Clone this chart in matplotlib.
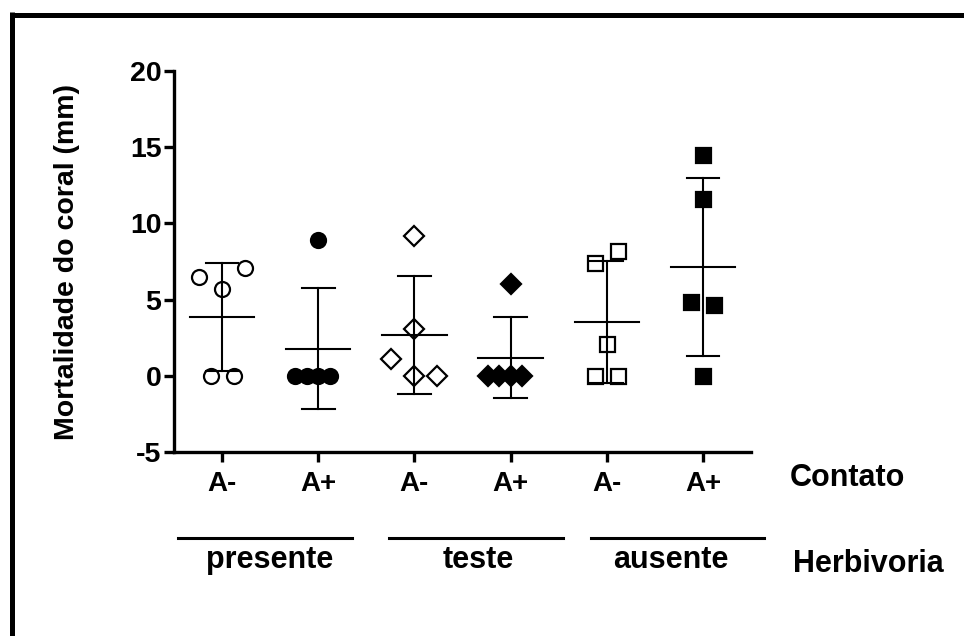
import numpy as np
import matplotlib
matplotlib.use('Agg')
import matplotlib.pyplot as plt
from matplotlib.lines import Line2D

plt.rcParams['font.family'] = ['Liberation Sans', 'DejaVu Sans']
plt.rcParams['font.weight'] = 'bold'
plt.rcParams['axes.unicode_minus'] = False

# data (mortality in mm)
contato = ['A-', 'A+', 'A-', 'A+', 'A-', 'A+']
herbivoria = ['presente', 'teste', 'ausente']
pres_neg = [6.5, 7.09, 5.67, 0.0, 0.0]
pres_pos = [8.91, 0.0, 0.0, 0.0, 0.0]
teste_neg = [9.19, 3.05, 1.12, 0.0, 0.0]
teste_pos = [6.0, 0.0, 0.0, 0.0, 0.0]
aus_neg = [8.19, 7.38, 2.07, 0.0, 0.0]
aus_pos = [14.49, 11.58, 4.86, 4.65, 0.0]
groups = [pres_neg, pres_pos, teste_neg, teste_pos, aus_neg, aus_pos]

# scatter spread of each point (in steps of marker width)
jitter = [[-2, 2, 0, -1, 1],
          [0, -2, -1, 0, 1],
          [0, 0, -2, 0, 2],
          [0, -2, -1, 0, 1],
          [1, -1, 0, -1, 1],
          [0, 0, -1, 1, 0]]
markers = ['o', 'o', 'D', 'D', 's', 's']
filled = [False, True, False, True, False, True]
msizes = [10.8, 10.8, 9.8, 9.8, 10.8, 10.8]

W, H = 964, 636
fig = plt.figure(figsize=(W / 100, H / 100), dpi=100)
ax = fig.add_axes([174 / W, 1 - 452 / H, (751 - 174) / W, (452 - 71) / H])

step = 0.12
for i, vals in enumerate(groups):
    vals = np.array(vals)
    m = vals.mean()
    sd = vals.std(ddof=1)
    ax.plot([i, i], [m - sd, m + sd], color='black', lw=1.5, zorder=2)
    ax.plot([i - 0.17, i + 0.17], [m + sd, m + sd], color='black', lw=1.5, zorder=2)
    ax.plot([i - 0.17, i + 0.17], [m - sd, m - sd], color='black', lw=1.5, zorder=2)
    ax.plot([i - 0.335, i + 0.335], [m, m], color='black', lw=1.5, zorder=2)
    xs = i + np.array(jitter[i]) * step
    ax.plot(xs, vals, linestyle='none', marker=markers[i], ms=msizes[i],
            mec='black', mew=1.6, mfc='black' if filled[i] else 'none',
            zorder=3, clip_on=False)

ax.set_xlim(-0.5, 5.5)
ax.set_ylim(-5, 20)
ax.set_yticks([-5, 0, 5, 10, 15, 20])
ax.set_xticks(range(6))
ax.set_xticklabels(contato)
ax.spines['top'].set_visible(False)
ax.spines['right'].set_visible(False)
for s in ['left', 'bottom']:
    ax.spines[s].set_linewidth(2.4)
ax.tick_params(axis='y', length=7, width=2.4, labelsize=20.5, pad=2)
ax.tick_params(axis='x', length=7.5, width=2.4, labelsize=20, pad=6)
ax.set_ylabel('Mortalidade do coral (mm)', fontsize=20.5, fontweight='bold')
ax.yaxis.set_label_coords((80 - 174) / (751 - 174), 0.5)

# Contato / Herbivoria row labels
fig.text(790 / W, 1 - 486 / H, 'Contato', fontsize=22, fontweight='bold',
         ha='left', va='baseline')
fig.text(793 / W, 1 - 572 / H, 'Herbivoria', fontsize=22, fontweight='bold',
         ha='left', va='baseline')

# group lines and labels below the axis
line_spans = [(178, 352), (389, 563), (591, 764)]
label_x = [269.5, 478, 671]
for (x0, x1), lx, name in zip(line_spans, label_x, herbivoria):
    fig.add_artist(Line2D([x0 / W, x1 / W], [1 - 537.5 / H, 1 - 537.5 / H],
                          color='black', lw=2.2, transform=fig.transFigure))
    fig.text(lx / W, 1 - 568 / H, name, fontsize=22, fontweight='bold',
             ha='center', va='baseline')

# frame edges on top and left
fig.add_artist(Line2D([9.5 / W, 1], [1 - 14.5 / H, 1 - 14.5 / H], color='black',
                      lw=3.6, transform=fig.transFigure, solid_capstyle='butt'))
fig.add_artist(Line2D([12 / W, 12 / W], [1 - 12 / H, 0], color='black',
                      lw=3.6, transform=fig.transFigure, solid_capstyle='butt'))

fig.savefig('out.png', dpi=100)
